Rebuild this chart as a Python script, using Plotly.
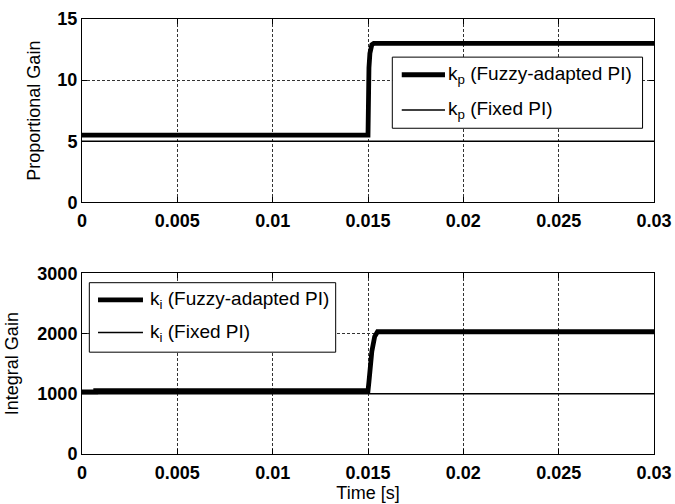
import plotly.graph_objects as go
from plotly.subplots import make_subplots

# ---------------- data ----------------
# Proportional gain (top)
t_kp_fuzzy = [0.0, 0.01500, 0.01505, 0.01510, 0.01520, 0.01530, 0.030]
kp_fuzzy = [5.5, 5.5, 11.0, 12.2, 12.9, 13.0, 13.0]
t_kp_fixed = [0.0, 0.030]
kp_fixed = [5.0, 5.0]

# Integral gain (bottom)
t_ki_fuzzy = [0.0, 0.00072, 0.00072, 0.01500, 0.01505, 0.01520, 0.01535, 0.01550, 0.030]
ki_fuzzy = [1030, 1030, 1050, 1050, 1200, 1700, 1950, 2030, 2030]
t_ki_fixed = [0.0, 0.030]
ki_fixed = [1000, 1000]

x_tick_vals = [0, 0.005, 0.01, 0.015, 0.02, 0.025, 0.03]
x_tick_text = ["0", "0.005", "0.01", "0.015", "0.02", "0.025", "0.03"]
kp_tick_vals = [0, 5, 10, 15]
kp_tick_text = ["0", "5", "10", "15"]
ki_tick_vals = [0, 1000, 2000, 3000]
ki_tick_text = ["0", "1000", "2000", "3000"]

legend_top = ["k<sub>p</sub> (Fuzzy-adapted PI)", "k<sub>p</sub> (Fixed PI)"]
legend_bot = ["k<sub>i</sub> (Fuzzy-adapted PI)", "k<sub>i</sub> (Fixed PI)"]

FONT = "Liberation Sans, Arial, sans-serif"
THICK = 4.8
THIN = 1.5

fig = make_subplots(rows=2, cols=1)

fig.add_trace(go.Scatter(x=t_kp_fuzzy, y=kp_fuzzy, mode="lines",
                         line=dict(color="black", width=THICK), showlegend=False), row=1, col=1)
fig.add_trace(go.Scatter(x=t_kp_fixed, y=kp_fixed, mode="lines",
                         line=dict(color="black", width=THIN), showlegend=False), row=1, col=1)
fig.add_trace(go.Scatter(x=t_ki_fuzzy, y=ki_fuzzy, mode="lines",
                         line=dict(color="black", width=THICK), showlegend=False), row=2, col=1)
fig.add_trace(go.Scatter(x=t_ki_fixed, y=ki_fixed, mode="lines",
                         line=dict(color="black", width=THIN), showlegend=False), row=2, col=1)

axis_common = dict(
    automargin=False,
    showline=True, linecolor="black", linewidth=1, mirror="ticks",
    ticks="inside", ticklen=5, tickcolor="black", tickwidth=1,
    showgrid=True, gridcolor="#333333", gridwidth=1, griddash="3px,2px",
    zeroline=False,
    tickfont=dict(family=FONT, size=18, color="black", weight="bold"),
)

fig.update_xaxes(range=[0, 0.03], tickvals=x_tick_vals, ticktext=x_tick_text,
                 ticklabelstandoff=2, **axis_common)
fig.update_xaxes(title=dict(text="Time [s]", font=dict(family=FONT, size=18, color="black"), standoff=0),
                 row=2, col=1)
fig.update_yaxes(range=[0, 15], tickvals=kp_tick_vals, ticktext=kp_tick_text,
                 title=dict(text="Proportional Gain", font=dict(family=FONT, size=18, color="black"), standoff=12),
                 row=1, col=1, **axis_common)
fig.update_yaxes(range=[0, 3000], tickvals=ki_tick_vals, ticktext=ki_tick_text,
                 title=dict(text="Integral Gain", font=dict(family=FONT, size=18, color="black"), standoff=14),
                 row=2, col=1, **axis_common)

fig.update_layout(
    width=675, height=504,
    margin=dict(l=82, r=21, t=19, b=50),
    paper_bgcolor="white", plot_bgcolor="white",
    font=dict(family=FONT, color="black"),
    xaxis=dict(domain=[0, 1]),
    xaxis2=dict(domain=[0, 1]),
    yaxis=dict(domain=[0.5786, 1]),
    yaxis2=dict(domain=[0, 0.4154]),
)

# ---------------- manual legends (MATLAB style) ----------------
def add_legend(xref, yref, box, rows, labels):
    x0, x1, y0, y1 = box
    fig.add_shape(type="rect", xref=xref, yref=yref, x0=x0, x1=x1, y0=y0, y1=y1,
                  line=dict(color="black", width=1), fillcolor="white", layer="above")
    for (ly, lw, lx0, lx1, tx), lab in zip(rows, labels):
        fig.add_shape(type="line", xref=xref, yref=yref, x0=lx0, x1=lx1, y0=ly, y1=ly,
                      line=dict(color="black", width=lw), layer="above")
        fig.add_annotation(xref=xref, yref=yref, x=tx, y=ly, text=lab, showarrow=False,
                           xanchor="left", yanchor="middle",
                           font=dict(family=FONT, size=19, color="black"))

add_legend("x domain", "y domain", (0.5425, 0.980, 0.404, 0.792),
           [(0.696, THICK, 0.559, 0.6346, 0.6364), (0.504, THIN, 0.559, 0.6346, 0.6364)],
           legend_top)
add_legend("x2 domain", "y2 domain", (0.0128, 0.4435, 0.5635, 0.948),
           [(0.853, THICK, 0.028, 0.1066, 0.1154), (0.672, THIN, 0.028, 0.1066, 0.1154)],
           legend_bot)

fig.write_html("out.html", config={"displayModeBar": False},
               post_script="document.body.style.margin='0px';document.body.style.padding='0px';")
